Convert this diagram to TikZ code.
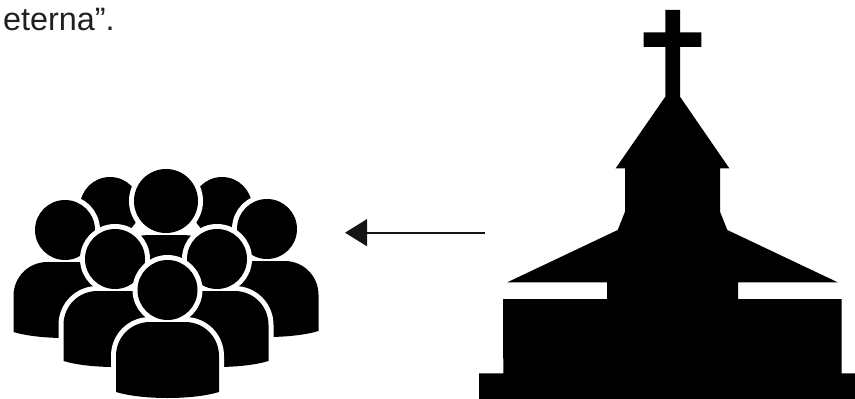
\documentclass[tikz,border=0pt]{standalone}
\usepackage{fontspec}
\setmainfont{Liberation Sans}
\usepackage{xcolor}
\usepackage{tikz}
\usetikzlibrary{arrows.meta}

\definecolor{inkdark}{HTML}{231F20}
\newcommand{\bodypath}{(-51.5,102) -- (-51.5,66) .. controls (-51.5,47) and (-36.5,32) .. (-17.5,32)
  -- (17.5,32) .. controls (36.5,32) and (51.5,47) .. (51.5,66) -- (51.5,102)
  .. controls (25,110) and (-25,110) .. cycle}

\begin{document}
\begin{tikzpicture}[
  x=0.75pt, y=-0.75pt,
  halo/.style={draw=white, fill=white, line width=7.5pt},
  solid/.style={fill=black},
  caption/.style={font=\fontsize{24.3}{29}\selectfont, text=inkdark, inner sep=0pt, anchor=base west},
  arr/.style={-{Triangle[length=16.5pt, width=20pt]}, line width=1.7pt, black!92},
  pics/person/.style={code={
    \path[halo] \bodypath;
    \path[halo] (0,0) circle (30);
    \path[solid] \bodypath;
    \path[solid] (0,0) circle (30);
  }},
]
\useasboundingbox (0,0) rectangle (855,399);

\node[caption] (txt) at (2.8,31) {eterna”.};

% crowd, from the back row to the front
\pic at (110,207) {person};
\pic at (222,207) {person};
\pic[scale=1.067] at (166,201) {person};
\pic at (65,230) {person};
\pic at (267,229) {person};
\pic at (115,259) {person};
\pic at (217,259) {person};
\pic at (167.5,290) {person};

% church
\fill[black] (665.3,10) -- (680,10) -- (680,32.3) -- (701.3,32.3) -- (701.3,47) -- (680,47)
  -- (680,96.7) -- (729.3,168.3) -- (720,168.3) -- (720,211.7) -- (727.3,230)
  -- (837.7,282.3) -- (738,282.3) -- (738,299) -- (841.7,299) -- (841.7,373.3)
  -- (855,373.3) -- (855,399) -- (479,399) -- (479,373.3) -- (503.3,373.3)
  -- (503,299) -- (607,299) -- (607,282.3) -- (507.3,282.3) -- (617.7,230)
  -- (625,211.7) -- (625,168.3) -- (615.7,168.3) -- (665.3,96.7) -- (665.3,47)
  -- (643.7,47) -- (643.7,32.3) -- (665.3,32.3) -- cycle;

\coordinate (arrstart) at (485,232.7);
\coordinate (arrend) at (345,232.7);
\draw[arr] (arrstart) -- (arrend);
\end{tikzpicture}
\end{document}
